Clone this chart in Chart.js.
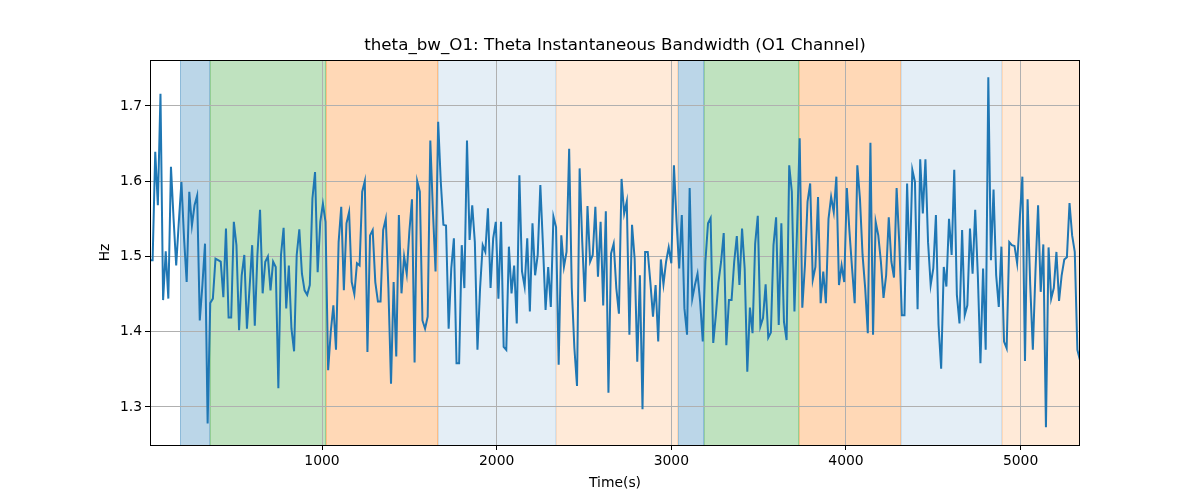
<!DOCTYPE html>
<html><head><meta charset="utf-8">
<script src="https://cdn.jsdelivr.net/npm/chart.js@4"></script>
<style>html,body{margin:0;padding:0;background:#fff}#wrap{width:1200px;height:500px}</style>
</head><body><div id="wrap"><canvas id="c" width="1200" height="500"></canvas></div>
<script>
// ---- data ----
const chartTitle = 'theta_bw_O1: Theta Instantaneous Bandwidth (O1 Channel)';
const xLabel = 'Time(s)';
const yLabel = 'Hz';
const tStart = 15, tStep = 15;   // sampling grid (s)
const bandwidth = [
1.495,1.495,1.639,1.568,1.716,1.442,1.507,1.444,1.619,1.550,
1.488,1.546,1.599,1.524,1.466,1.586,1.541,1.568,1.581,1.415,
1.462,1.517,1.278,1.438,1.444,1.497,1.495,1.493,1.446,1.537,
1.419,1.419,1.546,1.515,1.402,1.475,1.502,1.404,1.458,1.515,
1.408,1.502,1.562,1.451,1.493,1.500,1.455,1.493,1.486,1.325,
1.502,1.538,1.431,1.488,1.404,1.374,1.502,1.536,1.477,1.455,
1.449,1.462,1.577,1.612,1.479,1.546,1.570,1.546,1.349,1.400,
1.435,1.376,1.519,1.566,1.455,1.544,1.559,1.466,1.450,1.491,
1.488,1.586,1.600,1.373,1.528,1.535,1.466,1.440,1.440,1.535,
1.550,1.458,1.331,1.466,1.367,1.555,1.451,1.500,1.477,1.533,
1.576,1.359,1.600,1.586,1.415,1.404,1.420,1.654,1.560,1.480,
1.679,1.599,1.542,1.541,1.404,1.484,1.524,1.358,1.358,1.515,
1.458,1.654,1.522,1.568,1.519,1.376,1.458,1.515,1.506,1.564,
1.458,1.524,1.546,1.444,1.546,1.380,1.376,1.513,1.451,1.488,
1.411,1.608,1.480,1.460,1.524,1.427,1.544,1.475,1.502,1.595,
1.515,1.429,1.486,1.433,1.553,1.539,1.356,1.528,1.486,1.506,
1.643,1.458,1.378,1.328,1.617,1.519,1.440,1.567,1.493,1.502,
1.566,1.473,1.546,1.435,1.560,1.319,1.504,1.517,1.458,1.424,
1.603,1.557,1.573,1.396,1.542,1.497,1.360,1.475,1.297,1.506,
1.506,1.466,1.420,1.462,1.387,1.496,1.463,1.493,1.512,1.491,
1.621,1.546,1.484,1.555,1.431,1.396,1.591,1.444,1.462,1.477,
1.440,1.387,1.493,1.544,1.551,1.385,1.422,1.466,1.493,1.531,
1.382,1.442,1.442,1.493,1.527,1.462,1.537,1.484,1.347,1.432,
1.398,1.517,1.554,1.407,1.418,1.463,1.392,1.399,1.515,1.552,
1.409,1.544,1.413,1.389,1.621,1.586,1.427,1.537,1.657,1.432,
1.488,1.573,1.597,1.469,1.486,1.579,1.438,1.480,1.438,1.550,
1.579,1.559,1.606,1.462,1.488,1.466,1.591,1.533,1.484,1.438,
1.621,1.577,1.502,1.458,1.398,1.651,1.396,1.546,1.528,1.493,
1.445,1.475,1.552,1.493,1.472,1.591,1.519,1.422,1.422,1.597,
1.482,1.615,1.599,1.430,1.629,1.557,1.629,1.519,1.462,1.484,
1.555,1.409,1.351,1.486,1.460,1.550,1.502,1.615,1.449,1.411,
1.535,1.422,1.435,1.537,1.477,1.562,1.475,1.358,1.484,1.376,
1.738,1.495,1.589,1.475,1.433,1.513,1.387,1.378,1.519,1.515,
1.514,1.491,1.550,1.606,1.361,1.576,1.462,1.376,1.480,1.568,
1.453,1.516,1.273,1.512,1.444,1.458,1.506,1.441,1.475,1.496,
1.499,1.571,1.528,1.506,1.376,1.362
];
const xTicks = [1000, 2000, 3000, 4000, 5000];
const yTicks = [1.3, 1.4, 1.5, 1.6, 1.7];
const xLimits = [15, 5340];
const yLimits = [1.2495, 1.761];
// shaded segments (s) and their state kind
const segStart = [187, 358, 1023, 1666, 2342, 3040, 3189, 3733, 4313, 4892];
const segEnd   = [358, 1023, 1666, 2342, 3040, 3189, 3733, 4313, 4892, 5340];
const segKind  = [0, 1, 2, 3, 4, 0, 1, 2, 3, 4];

// ---- styles ----
const kindFill = ['rgba(31,119,180,0.3)','rgba(44,160,44,0.3)','rgba(255,127,14,0.3)','rgba(31,119,180,0.12)','rgba(255,127,14,0.16)'];
const FONT = 'DejaVu Sans';

const points = bandwidth.map((v, i) => ({x: tStart + i * tStep, y: v}));

const bandsPlugin = {
  id: 'bands',
  beforeDraw(chart) {
    const {ctx, chartArea: a, scales: {x}} = chart;
    ctx.save();
    ctx.beginPath(); ctx.rect(a.left, a.top, a.right - a.left, a.bottom - a.top); ctx.clip();
    for (let i = 0; i < segStart.length; i++) {
      const x0 = x.getPixelForValue(segStart[i]);
      const x1 = x.getPixelForValue(segEnd[i]);
      ctx.fillStyle = kindFill[segKind[i]];
      ctx.fillRect(x0, a.top, x1 - x0, a.bottom - a.top);
      ctx.strokeStyle = kindFill[segKind[i]];
      ctx.lineWidth = 1;
      ctx.beginPath();
      ctx.moveTo(Math.round(x0) + 0.5, a.top); ctx.lineTo(Math.round(x0) + 0.5, a.bottom);
      ctx.moveTo(Math.round(x1) - 0.5, a.top); ctx.lineTo(Math.round(x1) - 0.5, a.bottom);
      ctx.stroke();
    }
    ctx.restore();
  },
  afterDraw(chart) {
    const {ctx, chartArea: a} = chart;
    ctx.save();
    ctx.strokeStyle = '#000'; ctx.lineWidth = 1;
    ctx.strokeRect(Math.round(a.left) + 0.5, Math.round(a.top) + 0.5, Math.round(a.right - a.left) - 1, Math.round(a.bottom - a.top));
    ctx.fillStyle = '#000';
    ctx.font = '16.7px "' + FONT + '"';
    ctx.textAlign = 'center'; ctx.textBaseline = 'middle';
    ctx.fillText(chartTitle, (a.left + a.right) / 2, 46);
    ctx.restore();
  }
};

new Chart(document.getElementById('c'), {
  type: 'line',
  data: { datasets: [{
    data: points, borderColor: '#1f77b4', borderWidth: 2,
    pointRadius: 0, tension: 0, fill: false
  }]},
  options: {
    responsive: false, animation: false, devicePixelRatio: 1,
    layout: { padding: { left: 97, right: 120, top: 60, bottom: 8 } },
    plugins: { legend: { display: false }, tooltip: { enabled: false }, title: { display: false } },
    scales: {
      x: {
        type: 'linear', min: xLimits[0], max: xLimits[1],
        afterFit(s) { s.height = 47; },
        afterBuildTicks(s) { s.ticks = xTicks.map(v => ({value: v})); },
        grid: { color: '#b0b0b0', lineWidth: 1, drawTicks: true, tickColor: '#000', tickLength: 5, tickWidth: 1 },
        border: { display: false },
        ticks: { color: '#000', font: { family: FONT, size: 13.9 }, padding: 3, maxRotation: 0, autoSkip: false, callback: v => String(v) },
        title: { display: true, text: xLabel, color: '#000', font: { family: FONT, size: 13.9 }, padding: 0 }
      },
      y: {
        type: 'linear', min: yLimits[0], max: yLimits[1],
        afterFit(s) { s.width = 53; },
        afterBuildTicks(s) { s.ticks = yTicks.map(v => ({value: v})); },
        grid: { color: '#b0b0b0', lineWidth: 1, drawTicks: true, tickColor: '#000', tickLength: 5, tickWidth: 1 },
        border: { display: false },
        ticks: { color: '#000', font: { family: FONT, size: 13.9 }, padding: 3, autoSkip: false, callback: v => v.toFixed(1) },
        title: { display: true, text: yLabel, color: '#000', font: { family: FONT, size: 13.9 }, padding: 0 }
      }
    }
  },
  plugins: [bandsPlugin]
});
</script></body></html>
